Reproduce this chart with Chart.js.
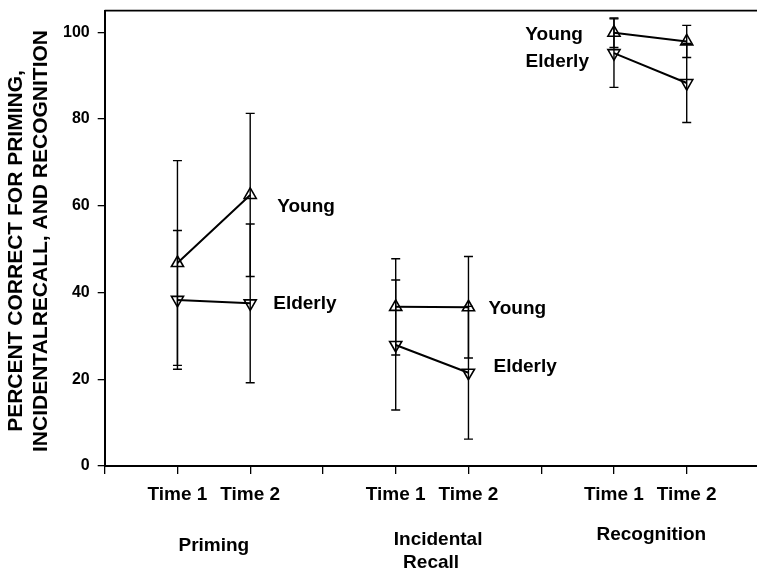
<!DOCTYPE html>
<html>
<head>
<meta charset="utf-8">
<script src="https://cdn.jsdelivr.net/npm/chart.js@4"></script>
<style>
  html, body { margin: 0; padding: 0; background: #fff; }
  #wrap { width: 757px; height: 573px; position: relative; }
</style>
</head>
<body>
<div id="wrap"><canvas id="chart"></canvas></div>
<script>
// Memory task scores (percent correct) for two age groups, tested twice per task.
const taskNames = [['Priming'], ['Incidental', 'Recall'], ['Recognition']];
const timeLabels = ['Time 1', 'Time 2'];
const timeSlots = [1, 2, 4, 5, 7, 8];
const youngMeans = [46.8, 62.5, 36.7, 36.6, 99.9, 97.9];
const youngErrors = [23.6, 18.8, 11.1, 11.7, 3.4, 3.7];
const elderlyMeans = [38.3, 37.5, 27.9, 21.5, 95.2, 88.3];
const elderlyErrors = [16.0, 18.3, 15.0, 15.3, 7.9, 9.1];
const yTickValues = [0, 20, 40, 60, 80, 100];
const yTitleLines = ['PERCENT CORRECT FOR PRIMING,', 'INCIDENTALRECALL, AND RECOGNITION'];

const FONT = "'Liberation Sans', Arial, Helvetica, sans-serif";

// Points per task are joined; a null point between tasks breaks the line.
function buildPoints(values) {
  const pts = [];
  values.forEach((v, i) => {
    pts.push({ x: timeSlots[i], y: v });
    if (i % 2 === 1 && i < values.length - 1) pts.push({ x: timeSlots[i] + 1, y: null });
  });
  return pts;
}
function buildErrors(errs) {
  const out = [];
  errs.forEach((e, i) => {
    out.push(e);
    if (i % 2 === 1 && i < errs.length - 1) out.push(null);
  });
  return out;
}

const errorBars = {
  id: 'errorBars',
  beforeDatasetsDraw(chart) {
    const { ctx, scales: { x, y } } = chart;
    ctx.save();
    ctx.strokeStyle = '#000';
    ctx.lineWidth = 1.4;
    chart.data.datasets.forEach(ds => {
      ds.data.forEach((p, i) => {
        const e = ds.errors[i];
        if (p.y == null || e == null) return;
        const px = x.getPixelForValue(p.x);
        const top = y.getPixelForValue(p.y + e);
        const bot = y.getPixelForValue(p.y - e);
        ctx.beginPath();
        ctx.moveTo(px, top); ctx.lineTo(px, bot);
        ctx.moveTo(px - 4.5, top); ctx.lineTo(px + 4.5, top);
        ctx.moveTo(px - 4.5, bot); ctx.lineTo(px + 4.5, bot);
        ctx.stroke();
      });
    });
    ctx.restore();
  }
};

// Group names written beside the points they belong to.
const seriesLabels = {
  id: 'seriesLabels',
  afterDatasetsDraw(chart, args, opts) {
    const { ctx } = chart;
    ctx.save();
    ctx.font = opts.font;
    ctx.fillStyle = '#000';
    ctx.textBaseline = 'middle';
    opts.items.forEach(it => {
      const el = chart.getDatasetMeta(it.ds).data[it.idx];
      ctx.textAlign = it.align;
      ctx.fillText(chart.data.datasets[it.ds].label, el.x + it.dx, el.y + it.dy);
    });
    ctx.restore();
  }
};

// Top frame line, task names under the time ticks, and the rotated y title.
const frameAndTitles = {
  id: 'frameAndTitles',
  afterDraw(chart, args, opts) {
    const { ctx, chartArea, scales: { x } } = chart;
    ctx.save();
    ctx.strokeStyle = '#000';
    ctx.lineWidth = 1.6;
    ctx.beginPath();
    ctx.moveTo(chartArea.left, chartArea.top);
    ctx.lineTo(chartArea.right, chartArea.top);
    ctx.stroke();

    ctx.fillStyle = '#000';
    ctx.font = opts.groupFont;
    ctx.textAlign = 'center';
    ctx.textBaseline = 'middle';
    taskNames.forEach((lines, t) => {
      const cx = x.getPixelForValue((timeSlots[2 * t] + timeSlots[2 * t + 1]) / 2);
      lines.forEach((line, k) => {
        ctx.fillText(line, cx + opts.groupDx[t][k], opts.groupY[t] + k * opts.groupLineHeight);
      });
    });

    ctx.font = opts.titleFont;
    yTitleLines.forEach((line, k) => {
      ctx.save();
      ctx.translate(opts.titleX[k], opts.titleY[k]);
      ctx.rotate(-Math.PI / 2);
      ctx.fillText(line, 0, 0);
      ctx.restore();
    });
    ctx.restore();
  }
};

const markerStyle = {
  showLine: true,
  spanGaps: false,
  borderColor: '#000',
  borderWidth: 2,
  pointStyle: 'triangle',
  pointRadius: 7,
  pointBorderWidth: 1.6,
  pointBackgroundColor: 'rgba(255,255,255,0)',
  pointBorderColor: '#000'
};

new Chart(document.getElementById('chart'), {
  type: 'scatter',
  data: {
    datasets: [
      Object.assign({
        label: 'Young',
        data: buildPoints(youngMeans),
        errors: buildErrors(youngErrors),
        pointRotation: 0
      }, markerStyle),
      Object.assign({
        label: 'Elderly',
        data: buildPoints(elderlyMeans),
        errors: buildErrors(elderlyErrors),
        pointRotation: 180
      }, markerStyle)
    ]
  },
  options: {
    responsive: true,
    maintainAspectRatio: false,
    animation: false,
    layout: { autoPadding: false, padding: { top: 10.6, right: 0, bottom: 0, left: 0 } },
    plugins: {
      legend: { display: false },
      tooltip: { enabled: false },
      seriesLabels: {
        font: 'bold 19px ' + FONT,
        items: [
          { ds: 0, idx: 1, dx: 27, dy: 12, align: 'left' },
          { ds: 1, idx: 1, dx: 23, dy: 0, align: 'left' },
          { ds: 0, idx: 4, dx: 20, dy: 2, align: 'left' },
          { ds: 1, idx: 4, dx: 25, dy: -6, align: 'left' },
          { ds: 0, idx: 6, dx: -31, dy: 2, align: 'right' },
          { ds: 1, idx: 6, dx: -25, dy: 9, align: 'right' }
        ]
      },
      frameAndTitles: {
        groupFont: 'bold 19px ' + FONT,
        groupY: [546, 540, 535],
        groupDx: [[0], [6, -1], [1]],
        groupLineHeight: 23,
        titleFont: 'bold 21px ' + FONT,
        titleX: [16, 41],
        titleY: [251, 241]
      }
    },
    scales: {
      x: {
        type: 'linear',
        min: 0,
        max: 8.966,
        afterBuildTicks(scale) {
          scale.ticks = [0, 1, 2, 3, 4, 5, 6, 7, 8].map(v => ({ value: v }));
        },
        afterFit(scale) {
          scale.height = 107;
          scale.paddingLeft = 0;
          scale.paddingRight = 0;
        },
        ticks: {
          autoSkip: false,
          maxRotation: 0,
          padding: 9,
          color: '#000',
          font: { family: FONT, size: 19, weight: 'bold' },
          callback(v) {
            const i = timeSlots.indexOf(v);
            return i >= 0 ? timeLabels[i % 2] : '';
          }
        },
        grid: { drawOnChartArea: false, drawTicks: true, tickLength: 8, color: '#000', lineWidth: 1.3 },
        border: { display: true, color: '#000', width: 2 }
      },
      y: {
        min: 0,
        max: 105,
        afterBuildTicks(scale) {
          scale.ticks = yTickValues.map(v => ({ value: v }));
        },
        afterFit(scale) {
          scale.width = 104.7;
          scale.paddingTop = 0;
          scale.paddingBottom = 0;
        },
        ticks: {
          padding: 8,
          color: '#000',
          font: { family: FONT, size: 16, weight: 'bold' }
        },
        grid: { drawOnChartArea: false, drawTicks: true, tickLength: 7, color: '#000', lineWidth: 1.3 },
        border: { display: true, color: '#000', width: 2 }
      }
    }
  },
  plugins: [errorBars, seriesLabels, frameAndTitles]
});
</script>
</body>
</html>
